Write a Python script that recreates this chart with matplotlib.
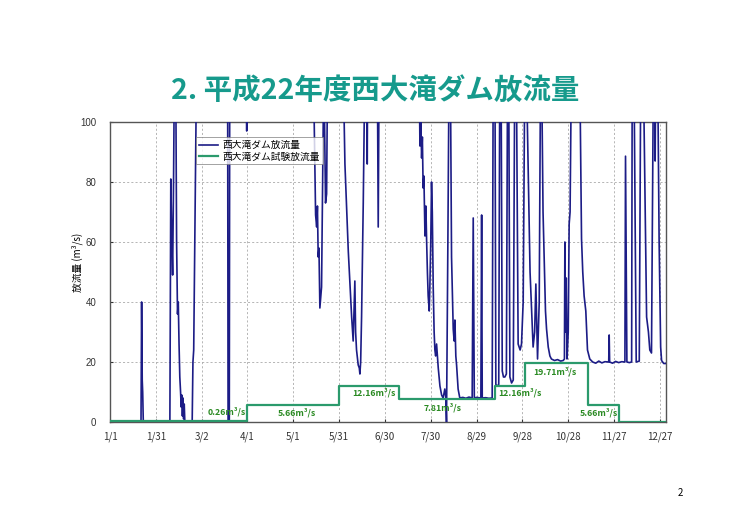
import matplotlib
matplotlib.use('Agg')
import matplotlib.pyplot as plt
import numpy as np

plt.rcParams['font.family'] = ['Noto Sans CJK JP', 'DejaVu Sans']

# days counted from 1/1 (2010), discharge in m3/s (values above 100 run off the chart)
flow_day = [
    0, 20.3, 20.7, 21.1, 21.4, 21.8,
    39.2, 39.8, 40.5, 41.0, 41.6, 42.2, 43.0, 43.6, 44.2, 44.7, 45.2, 45.7, 46.2, 46.6,
    47.0, 47.4, 47.8, 48.2, 48.6, 49.0,
    53.8, 54.3, 54.8, 56.7,
    77.0, 77.3, 78.1, 78.4,
    89.2, 89.5, 89.8,
    133.1, 134.6, 135.3, 135.8, 136.3, 136.8, 137.4, 138.5, 139.2, 140.0, 141.1, 141.8, 142.5,
    152.6, 153.8, 156.0, 158.2, 159.2, 160.3, 160.8, 161.4, 162.5, 163.2, 163.6, 164.1,
    164.7, 165.8, 166.9,
    168.2, 168.4, 168.7,
    175.0, 175.6, 176.2,
    202.4, 202.9, 203.5, 204.0, 204.5, 205.0, 205.5, 206.2, 206.8, 207.3, 207.8, 208.3,
    209.0, 209.4, 210.0, 210.5, 211.0, 211.6, 212.2, 212.7, 213.2, 213.8, 214.9, 216.0,
    217.1, 218.1, 219.2, 219.8, 220.3, 221.2, 222.0, 222.8, 223.6, 224.7, 225.3, 225.8,
    226.4, 226.9, 227.9, 229.0,
    231, 233, 235, 237.1, 237.8, 238.5, 240, 242.8, 243.3, 243.7, 246, 248, 250.2, 250.9,
    252.0, 252.6, 253.5, 254.5, 255.2, 256.0, 256.8, 257.6, 258.5, 259.5, 260.3, 261.0,
    261.8, 262.9, 264.0, 265.0, 266.0, 267.2, 268.5, 269.4, 270.5, 271.6,
    272.5, 275.0, 277.0, 278.0, 278.8, 279.9, 281.0, 281.9,
    282.5, 283.5, 285.1, 285.8, 286.9, 288.0, 289.0, 291.0, 293.0, 295.0, 296.7,
    297.5, 297.8, 298.2, 298.7, 299.2, 300.0, 300.6, 301.2, 302.1,
    307.5, 308.7, 309.5, 310.4, 311.5, 312.6, 314.1, 316, 318, 320, 322, 324, 326.5,
    326.8, 327.1, 329, 331, 333, 335, 337.1, 337.5, 338.4, 340, 341.5, 341.9, 343.0,
    344.5, 346.5, 347.5, 349.1, 351.3, 352.5, 353.4, 354.5, 355.8, 356.5, 356.9, 357.3,
    358.5, 359.5, 360.5, 361.1, 362.5, 364,
]
flow_val = [
    0, 0, 40, 14, 10, 0,
    0, 81, 60, 49, 80, 120, 120, 60, 36, 40, 26, 15, 10, 5,
    9, 2, 8, 1, 6, 0,
    0, 20, 24, 120,
    120, 0, 0, 120,
    120, 97, 120,
    120, 69, 65, 72, 55, 58, 38, 45, 80, 120, 73, 76, 120,
    120, 86, 57, 35, 27, 47, 30, 24, 19, 18, 16, 20,
    35, 73, 120,
    120, 86, 120,
    120, 65, 120,
    120, 92, 100, 88, 95, 78, 82, 62, 72, 60, 50, 42,
    37, 45, 60, 80, 70, 45, 30, 24, 22, 26, 18, 12,
    9, 8, 11, 8.5, 0, 60, 120, 120, 55, 31, 27, 34,
    22, 19, 11, 8,
    8.2, 7.9, 8.3, 8, 68, 8, 8.2, 8, 69, 8, 8.1, 7.9, 8, 120,
    120, 12.5, 12, 12.5, 120, 120, 17, 15, 15, 16, 120, 120,
    15, 13, 14, 120, 120, 26, 24, 26, 40, 120,
    120, 50, 25, 30, 46, 21, 40, 120,
    120, 70, 37, 31, 25, 22, 21, 20.5, 20.8, 20.3, 20.5,
    21, 60, 30, 48, 21, 30, 66, 70, 120,
    120, 61, 50, 42, 37, 24, 21, 20, 19.6, 20.3, 19.7, 20.1, 20,
    29, 20, 19.6, 20.2, 19.8, 20.1, 20, 88.6, 20, 19.8, 20, 120, 120,
    20, 20.3, 120, 120, 35, 30, 24, 23, 120, 120, 87, 120,
    120, 60, 25, 20.5, 19.5, 19.5,
]

# test release schedule: change days and release level of each period
test_day = [0, 90, 150, 189, 252, 272, 313, 333, 364]
test_val = [0.26, 5.66, 12.16, 7.81, 12.16, 19.71, 5.66, 0.0, 0.0]
labelled = [0, 1, 2, 3, 4, 5, 6]   # periods that get a value label
label_xy = [(76.4, 3.4), (122.4, 3.1), (173, 9.9), (217.8, 4.8),
            (268.3, 9.6), (291.2, 16.6), (320.2, 3.1)]

tick_days = [0, 30, 60, 90, 120, 150, 180, 210, 240, 270, 300, 330, 360]
tick_labels = ['1/1', '1/31', '3/2', '4/1', '5/1', '5/31', '6/30',
               '7/30', '8/29', '9/28', '10/28', '11/27', '12/27']

navy = '#1c1c86'
green = '#2b9a6c'

fig = plt.figure(figsize=(7.48, 5.29), dpi=100)
ax = fig.add_axes([110/748, 107/529, 556/748, 300/529])

ax.plot(flow_day, flow_val, color=navy, lw=1.2, label='西大滝ダム放流量', zorder=3)
ax.step(test_day, test_val, where='post', color=green, lw=1.6,
        label='西大滝ダム試験放流量', zorder=4)

for i, (x, y) in zip(labelled, label_xy):
    ax.text(x, y, '%.2fm³/s' % test_val[i], color='#2a8a22', fontsize=6.3,
            fontweight='bold', ha='center', va='center', zorder=5)

ax.set_xlim(0, 364)
ax.set_ylim(0, 100)
ax.set_xticks(tick_days)
ax.set_xticklabels(tick_labels, fontsize=7)
ax.set_yticks([0, 20, 40, 60, 80, 100])
ax.set_yticklabels(['0', '20', '40', '60', '80', '100'], family='Liberation Sans', fontsize=7)
ax.tick_params(axis='x', direction='in', length=2, pad=7, colors='#333333')
ax.tick_params(axis='y', direction='in', length=2, pad=10, colors='#333333')
ax.grid(True, color='#aaaaaa', ls=(0, (2.5, 2.5)), lw=0.6)
ax.set_axisbelow(True)
for s in ax.spines.values():
    s.set_color('#555555')
    s.set_linewidth(1.0)

leg = ax.legend(loc='upper left', bbox_to_anchor=((196-110)/556, (422-137)/300),
                borderaxespad=0, fontsize=7, frameon=True, fancybox=False,
                handlelength=2.0, handletextpad=0.4, borderpad=0.3,
                labelspacing=0.15)
leg.get_frame().set_edgecolor('#777777')
leg.get_frame().set_linewidth(0.6)

fig.text(77/748, 1 - 262/529, '放流量 (m³/s)', rotation=90, fontsize=7,
         ha='center', va='center')
fig.text(375/748, 1 - 91/529, '2. 平成22年度西大滝ダム放流量', fontsize=20.5,
         fontweight='bold', color='#169a8c', ha='center', va='center')
fig.text(680/748, 1 - 493/529, '2', fontsize=7, ha='center', va='center')

fig.savefig('out.png', dpi=100)
